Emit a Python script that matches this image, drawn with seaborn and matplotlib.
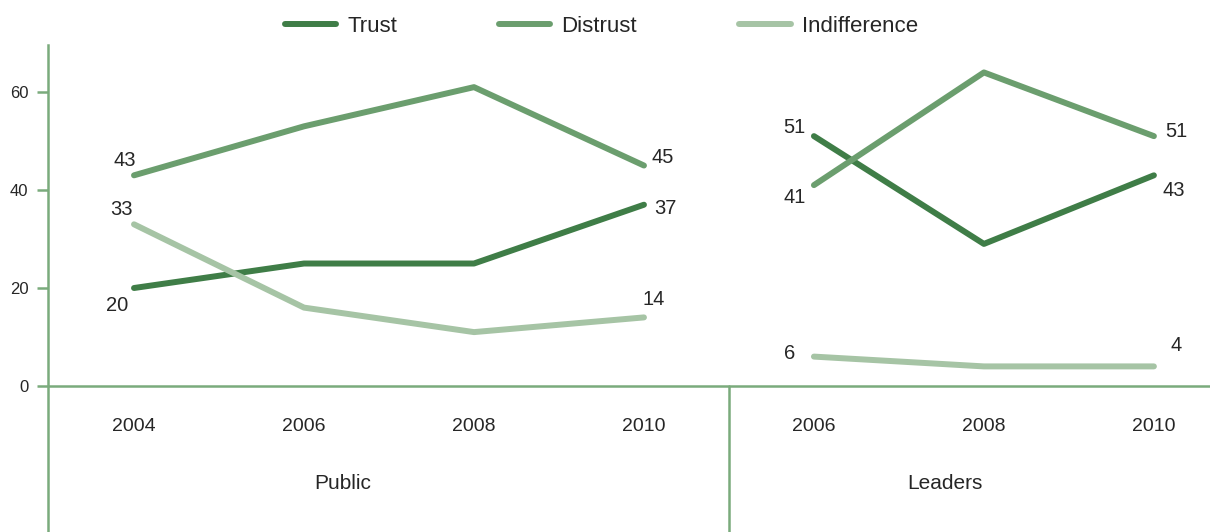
import matplotlib
matplotlib.use("Agg")
import matplotlib.pyplot as plt
import seaborn as sns
import pandas as pd
from matplotlib.lines import Line2D

# ---- data -------------------------------------------------------------
series_names = ["Trust", "Distrust", "Indifference"]

public_years = ["2004", "2006", "2008", "2010"]
public_trust = [20, 25, 25, 37]
public_distrust = [43, 53, 61, 45]
public_indifference = [33, 16, 11, 14]

leaders_years = ["2006", "2008", "2010"]
leaders_trust = [51, 29, 43]
leaders_distrust = [41, 64, 51]
leaders_indifference = [6, 4, 4]

group_names = ["Public", "Leaders"]
y_ticks = [0, 20, 40, 60]

# ---- styling ----------------------------------------------------------
colors = {"Trust": "#3f7d47", "Distrust": "#6b9e6e", "Indifference": "#a6c4a5"}
axis_color = "#7aab7c"
text_color = "#262626"

sns.set_theme(style="white")
plt.rcParams["font.family"] = ["Liberation Sans", "DejaVu Sans"]

# ---- long-form table --------------------------------------------------
rows = []
pos = 0
for group, years, vals in [
    ("Public", public_years, [public_trust, public_distrust, public_indifference]),
    ("Leaders", leaders_years, [leaders_trust, leaders_distrust, leaders_indifference]),
]:
    for i, yr in enumerate(years):
        for name, v in zip(series_names, vals):
            rows.append({"group": group, "year": yr, "pos": pos + i,
                         "series": name, "value": v[i]})
    pos += len(years)
df = pd.DataFrame(rows)

fig = plt.figure(figsize=(12.10, 5.32), dpi=100)
ax = fig.add_axes([48 / 1210, 0, 1 - 48 / 1210, 1 - 45 / 532])

# one set of lines per group so the series break between Public and Leaders
for group in group_names:
    sns.lineplot(
        data=df[df["group"] == group], x="pos", y="value", hue="series",
        palette=colors, hue_order=series_names, linewidth=4.3, legend=False, ax=ax,
        solid_capstyle="round",
    )

n_pub = len(public_years)
ax.set_xlim(-0.506, 6.33)
ax.set_ylim(-29.8, 69.6)

# axes frame: left spine and zero baseline
for side in ["top", "right", "bottom"]:
    ax.spines[side].set_visible(False)
ax.spines["left"].set_color(axis_color)
ax.spines["left"].set_linewidth(1.8)
ax.axhline(0, color=axis_color, linewidth=1.8, zorder=1)
ax.axvline(n_pub - 0.5, ymin=0, ymax=29.8 / (69.6 + 29.8), color=axis_color, linewidth=1.8)

ax.set_yticks(y_ticks)
ax.set_yticklabels([str(t) for t in y_ticks], fontsize=12, color=text_color)
ax.tick_params(axis="y", length=8, width=1.8, color=axis_color, pad=6, left=True)
ax.set_xticks([])
ax.set_xlabel("")
ax.set_ylabel("")

# year labels under the baseline and group titles
all_years = public_years + leaders_years
for i, yr in enumerate(all_years):
    ax.text(i, -8.2, yr, ha="center", va="center", fontsize=14, color=text_color)
group_label_x = [1.23, 4.77]
for gx, gname in zip(group_label_x, group_names):
    ax.text(gx, -20.0, gname, ha="center", va="center", fontsize=15, color=text_color)

# end-point value labels
label_offsets = {
    ("Public", 0): {"Trust": (-17, -17), "Distrust": (-9, 15), "Indifference": (-13, 15)},
    ("Public", 3): {"Trust": (21, -4), "Distrust": (19, 8), "Indifference": (10, 18)},
    ("Leaders", 4): {"Trust": (-20, 9), "Distrust": (-19, -12), "Indifference": (-24, 3)},
    ("Leaders", 6): {"Trust": (20, -15), "Distrust": (22, 5), "Indifference": (22, 21)},
}
for (group, p), offs in label_offsets.items():
    sub = df[(df["group"] == group) & (df["pos"] == p)]
    for _, r in sub.iterrows():
        dx, dy = offs[r["series"]]
        ax.annotate(str(r["value"]), (r["pos"], r["value"]), xytext=(dx, dy),
                    textcoords="offset pixels", ha="center", va="center",
                    fontsize=14.5, color=text_color)

# legend across the top
handles = [Line2D([0], [0], color=colors[n], linewidth=4.3, solid_capstyle="round")
           for n in series_names]
fig.legend(handles, series_names, loc="upper center", bbox_to_anchor=(0.497, 1.0), ncol=3,
           frameon=False, fontsize=16, handlelength=2.3, handletextpad=0.5,
           columnspacing=4.6, labelcolor=text_color, borderaxespad=0.3)

fig.savefig("out.png", dpi=100)
